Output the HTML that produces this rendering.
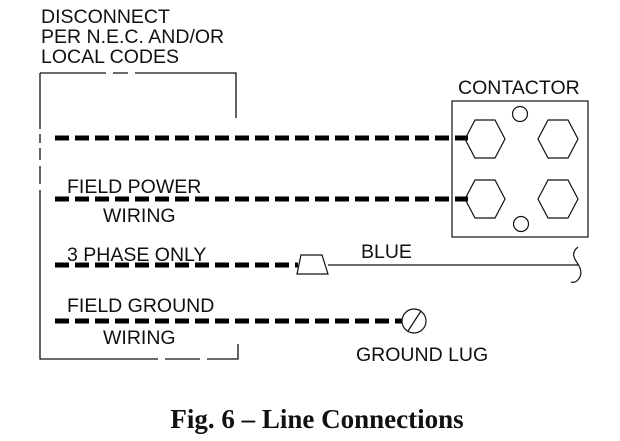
<!DOCTYPE html>
<html><head><style>
html,body{margin:0;padding:0;background:#fff;}
svg{display:block;}
.t{font-family:"Liberation Sans",sans-serif;font-size:19.5px;fill:#111;}
</style></head><body>
<svg width="620" height="441" viewBox="0 0 620 441">
<g stroke="#111" stroke-width="1.3" fill="none">
<path d="M40 73H106M113 73H128M135 73H158M158 73H236V118"/>
<path d="M40 73V129M40 134V143M40 148V160M40 166V184M40 190V359H158M165 359H200M207 359H238V344"/>
</g>
<g stroke="#000" stroke-width="5" stroke-dasharray="14 6" fill="none">
<path d="M55 138H468"/>
<path d="M55 199H468"/>
<path d="M55 265H298"/>
<path d="M55 321H402"/>
</g>
<g stroke="#111" stroke-width="1.2" fill="none">
<rect x="452" y="101" width="136" height="136"/>
<circle cx="520" cy="114" r="7.5"/>
<circle cx="521" cy="224" r="7.5"/>
<polygon points="465,139 475,120 495,120 505,139 495,158 475,158"/>
<polygon points="538,139 548,120 568,120 578,139 568,158 548,158"/>
<polygon points="465,199 475,180 495,180 505,199 495,218 475,218"/>
<polygon points="538,199 548,180 568,180 578,199 568,218 548,218"/>
<polygon points="301,255 322,255 328,274 297,274"/>
<path d="M328 265H578"/>
<path d="M578 247C568 255 578 262 580 268C583 276 577 284 571 282"/>
<circle cx="414" cy="321" r="12"/>
<path d="M408 331L421 311"/>
</g>
<text class="t" x="41" y="23">DISCONNECT</text>
<text class="t" x="41" y="43">PER N.E.C. AND/OR</text>
<text class="t" x="41" y="63">LOCAL CODES</text>
<text class="t" x="458" y="94">CONTACTOR</text>
<text class="t" x="67" y="193">FIELD POWER</text>
<text class="t" x="103" y="222">WIRING</text>
<text class="t" x="67" y="261">3 PHASE ONLY</text>
<text class="t" x="361" y="258">BLUE</text>
<text class="t" x="67" y="312">FIELD GROUND</text>
<text class="t" x="103" y="344">WIRING</text>
<text class="t" x="356" y="361">GROUND LUG</text>
<text x="317" y="428" text-anchor="middle" style="font-family:'Liberation Serif',serif;font-weight:bold;font-size:27px;fill:#111">Fig. 6 – Line Connections</text>
</svg>
</body></html>
